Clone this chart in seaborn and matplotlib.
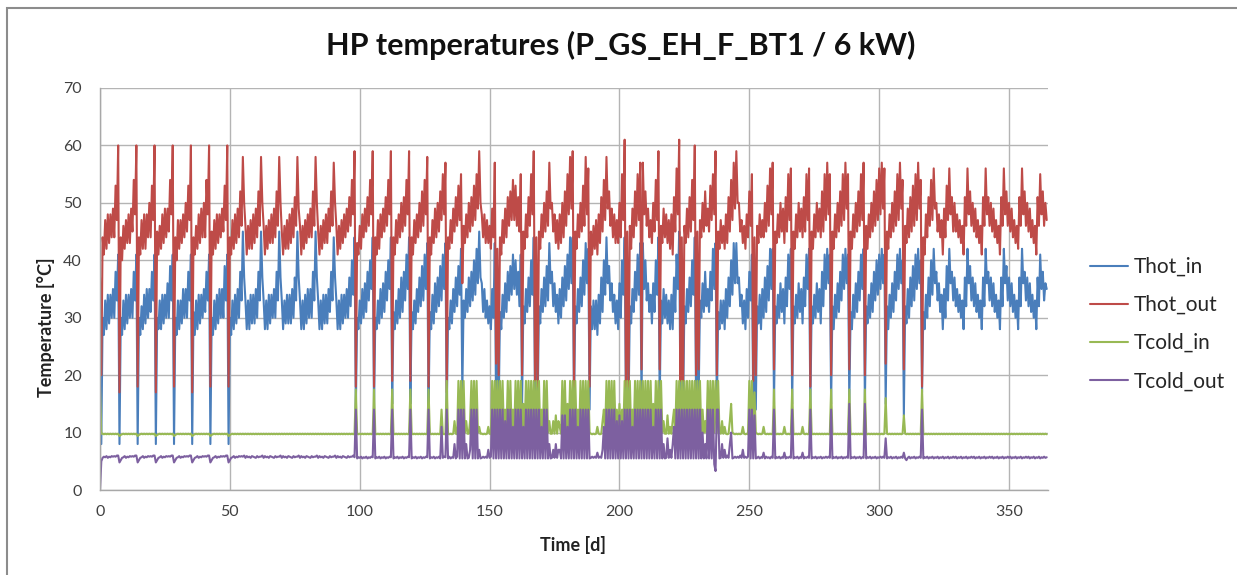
import numpy as np
import pandas as pd
import matplotlib
matplotlib.use("Agg")
import matplotlib.pyplot as plt
import seaborn as sns
from matplotlib.patches import Rectangle

# ---------------- data (two readings per day: start of day, mid-day) ----------------
title_text = "HP temperatures (P_GS_EH_F_BT1 / 6 kW)"
series_names = ["Thot_in", "Thot_out", "Tcold_in", "Tcold_out"]
series_colors = ["#4A7EBB", "#BE4B48", "#98B954", "#7D60A0"]
x_ticks = [0, 50, 100, 150, 200, 250, 300, 350]
y_ticks = [0, 10, 20, 30, 40, 50, 60, 70]

thot_out = [
    37,20, 44,41, 47,42, 48,43, 48,44, 49,44, 53,47,   # d0-6
    60,17, 44,40, 46,42, 47,43, 48,43, 49,45, 54,48,   # d7-13
    60,18, 44,41, 47,42, 48,42, 48,44, 50,44, 53,47,
    60,17, 45,41, 46,42, 48,43, 49,44, 49,45, 54,48,
    60,18, 44,40, 47,42, 47,43, 48,44, 50,45, 53,47,
    60,17, 44,41, 46,42, 48,43, 49,44, 50,44, 54,48,
    60,18, 45,41, 47,42, 48,43, 48,44, 49,45, 53,47,   # d42-48
    60,18, 44,41, 47,42, 48,43, 49,44, 52,46, 58,50,   # d49-55
    46,41, 46,42, 47,42, 48,43, 49,44, 52,46, 58,50,
    46,41, 46,42, 47,43, 48,43, 49,44, 52,46, 58,50,
    45,41, 46,42, 47,42, 48,43, 49,44, 51,46, 58,49,
    46,41, 46,42, 47,43, 48,44, 49,44, 52,46, 58,50,
    45,41, 46,42, 47,43, 48,43, 49,45, 52,46, 57,50,
    46,41, 46,42, 47,43, 48,44, 49,45, 51,46, 54,48,   # d91-97
    59,18, 43,41, 46,42, 48,44, 49,45, 51,46, 54,48,   # d98-104
    59,18, 44,41, 47,42, 48,44, 49,45, 51,46, 54,48,
    59,19, 44,41, 47,43, 48,44, 50,45, 51,46, 54,48,
    59,19, 44,41, 47,43, 48,44, 50,45, 52,46, 54,48,
    58,18, 44,41, 47,43, 49,44, 50,45, 52,47, 55,48,
    57,17, 44,42, 47,43, 49,45, 51,46, 53,47, 55,36,   # d133-139
    46,43, 48,44, 50,45, 51,46, 53,47, 55,49, 59,50,
    48,44, 48,43, 47,43, 46,42, 49,44, 57,22, 42,20,
    44,41, 47,43, 49,44, 51,46, 52,47, 54,47, 53,46,
    51,45, 55,20, 45,42, 48,44, 51,46, 55,48, 59,19,
    44,18, 45,42, 48,44, 50,45, 52,46, 57,49, 50,45,
    48,43, 47,42, 48,43, 50,44, 52,46, 55,48, 58,49,
    59,18, 45,42, 48,44, 50,45, 53,46, 58,48, 56,18,   # d182-188
    45,41, 46,42, 47,41, 48,43, 51,45, 54,47, 58,49,
    52,46, 49,44, 48,43, 47,43, 50,44, 55,47, 61,18,
    45,18, 46,42, 49,44, 52,46, 55,47, 57,21, 57,48,
    52,46, 49,44, 47,43, 50,45, 54,47, 59,21, 46,43,
    49,44, 48,43, 47,42, 48,41, 51,45, 56,48, 61,19,
    44,19, 46,43, 49,44, 51,45, 54,47, 60,20, 45,21,
    47,44, 50,45, 52,46, 49,45, 53,47, 55,48, 59,20,   # d231-237
    45,42, 47,43, 46,42, 48,43, 51,45, 54,47, 57,49,
    59,50, 50,45, 47,43, 46,42, 48,44, 52,46, 55,19,
    44,20, 46,43, 48,44, 47,44, 50,45, 53,46, 56,48,
    57,21, 45,43, 48,44, 50,45, 49,43, 51,45, 55,47,
    56,20, 45,42, 48,44, 50,45, 49,44, 51,45, 55,47,
    56,18, 45,42, 48,44, 50,45, 49,44, 52,45, 55,47,
    57,48, 55,20, 45,42, 48,44, 50,45, 52,46, 55,47,   # d280-286
    57,49, 55,21, 45,42, 48,44, 50,45, 52,46, 55,47,
    57,20, 46,42, 48,44, 50,45, 52,46, 54,47, 56,48,
    57,49, 56,22, 45,42, 48,44, 50,45, 52,46, 55,47,
    57,49, 54,21, 46,43, 49,44, 51,45, 53,46, 55,47,
    57,49, 54,18, 44,41, 48,44, 51,46, 54,47, 56,49,   # d315-321
    50,45, 48,44, 47,41, 49,44, 53,47, 56,48, 51,45,
    50,45, 48,44, 47,43, 46,41, 51,46, 56,48, 52,46,
    50,45, 49,44, 47,43, 46,41, 51,46, 56,48, 51,46,
    50,45, 49,44, 47,43, 46,41, 51,46, 56,48, 52,46,
    50,45, 49,44, 47,43, 46,42, 51,46, 56,48, 52,46,
    50,45, 49,44, 47,43, 46,41, 51,46, 55,48, 52,46,   # d357-363
    50,47,                                             # d364
]

thot_in = [
    25,8, 30,27, 33,28, 34,29, 34,30, 35,30, 38,33,
    41,8, 30,27, 33,28, 34,29, 34,30, 35,30, 38,33,
    41,8, 30,27, 32,28, 34,29, 35,30, 35,31, 38,33,
    41,8, 30,28, 33,28, 34,29, 34,30, 36,30, 39,33,
    41,8, 30,27, 33,28, 33,29, 35,30, 35,30, 38,33,
    41,8, 31,27, 33,28, 34,29, 34,30, 35,31, 38,33,
    41,8, 30,27, 33,28, 34,29, 35,30, 35,30, 39,33,
    41,8, 30,27, 33,28, 34,29, 35,30, 38,33, 45,37,
    33,28, 33,28, 34,29, 34,29, 35,30, 38,33, 45,37,
    33,28, 33,28, 34,29, 34,30, 35,30, 38,33, 45,37,
    33,28, 33,29, 34,29, 34,29, 35,30, 37,33, 45,37,
    33,28, 33,28, 34,29, 35,30, 35,30, 38,33, 45,37,
    33,28, 33,28, 34,29, 34,29, 35,31, 38,33, 44,37,
    33,28, 33,28, 34,29, 34,30, 35,30, 37,32, 40,34,
    44,14, 30,28, 33,29, 35,30, 36,31, 38,33, 40,35,
    44,14, 30,28, 33,29, 35,30, 36,31, 38,33, 40,35,
    44,15, 31,28, 33,29, 35,30, 37,31, 38,33, 41,35,
    44,15, 31,28, 33,29, 35,31, 37,32, 39,33, 41,35,
    43,14, 31,28, 34,29, 36,31, 37,32, 39,33, 41,35,
    43,13, 30,28, 33,29, 35,31, 37,32, 39,34, 42,17,
    33,30, 35,31, 37,32, 38,33, 40,34, 42,36, 45,37,
    36,31, 35,30, 33,29, 32,28, 35,30, 43,14, 32,14,
    31,28, 34,30, 36,31, 38,33, 39,34, 41,35, 40,34,
    38,32, 41,15, 32,29, 35,31, 37,32, 40,34, 44,14,
    31,14, 32,29, 35,31, 37,32, 39,33, 43,36, 38,32,
    36,31, 34,29, 35,30, 37,32, 39,33, 41,35, 44,36,
    44,14, 32,29, 35,31, 37,32, 40,34, 43,36, 42,14,
    32,28, 33,28, 33,27, 34,29, 37,31, 40,34, 44,36,
    39,33, 36,31, 34,29, 33,28, 36,30, 40,34, 44,14,
    32,14, 32,29, 35,31, 38,33, 41,34, 43,15, 43,35,
    40,33, 36,31, 34,29, 36,31, 40,34, 44,15, 33,29,
    35,30, 34,29, 33,28, 34,28, 37,31, 41,35, 45,14,
    31,14, 32,29, 35,31, 37,32, 40,34, 44,15, 32,16,
    33,30, 36,31, 38,32, 35,31, 38,33, 42,35, 43,14,
    31,28, 33,29, 33,28, 35,30, 37,32, 40,34, 43,36,
    43,36, 37,32, 34,29, 33,28, 35,30, 38,33, 41,14,
    31,14, 32,29, 34,28, 35,30, 37,31, 39,33, 42,35,
    42,15, 32,29, 34,30, 36,31, 35,29, 37,32, 41,35,
    42,15, 32,29, 34,30, 36,31, 35,29, 37,32, 41,35,
    42,14, 32,29, 34,30, 36,31, 35,29, 38,32, 41,35,
    42,36, 41,15, 32,28, 34,30, 36,31, 38,33, 41,35,
    42,36, 41,15, 31,28, 34,30, 36,31, 38,33, 41,35,
    42,15, 32,29, 34,30, 36,31, 38,33, 40,34, 41,35,
    42,36, 41,15, 32,28, 34,30, 36,31, 38,33, 41,35,
    42,36, 40,13, 32,29, 35,30, 37,32, 39,33, 41,35,
    42,36, 40,17, 31,28, 34,30, 37,32, 40,34, 42,36,
    38,33, 36,31, 34,28, 35,30, 39,33, 42,36, 38,33,
    37,32, 35,31, 34,30, 33,28, 37,32, 42,36, 39,33,
    37,32, 36,31, 34,30, 33,28, 37,32, 42,36, 38,33,
    37,32, 36,31, 34,30, 33,28, 37,32, 42,36, 39,33,
    37,32, 36,31, 34,30, 33,28, 37,32, 42,36, 38,33,
    37,32, 36,31, 34,30, 33,28, 37,32, 41,35, 38,33,
    36,35,
]

tcold_in = [
    18,9.8, 9.8,9.7, 9.8,9.7, 9.8,9.7, 9.8,9.7, 9.8,9.7, 9.8,9.7,
    9.8,9.4, 9.6,9.7, 9.8,9.7, 9.8,9.7, 9.8,9.7, 9.8,9.7, 9.8,9.7,
    9.8,9.4, 9.6,9.7, 9.8,9.7, 9.8,9.7, 9.8,9.7, 9.8,9.7, 9.8,9.7,
    9.8,9.4, 9.6,9.7, 9.8,9.7, 9.8,9.7, 9.8,9.7, 9.8,9.7, 9.8,9.7,
    9.8,9.4, 9.6,9.7, 9.8,9.7, 9.8,9.7, 9.8,9.7, 9.8,9.7, 9.8,9.7,
    9.8,9.4, 9.6,9.7, 9.8,9.7, 9.8,9.7, 9.8,9.7, 9.8,9.7, 9.8,9.7,
    9.8,9.4, 9.6,9.7, 9.8,9.7, 9.8,9.7, 9.8,9.7, 9.8,9.7, 9.8,9.7,
    9.8,9.4, 9.6,9.7, 9.8,9.7, 9.8,9.7, 9.8,9.7, 9.8,9.7, 9.8,9.7,
    9.8,9.7, 9.8,9.7, 9.8,9.7, 9.8,9.7, 9.8,9.7, 9.8,9.7, 9.8,9.7,
    9.8,9.7, 9.8,9.7, 9.8,9.7, 9.8,9.7, 9.8,9.7, 9.8,9.7, 9.8,9.7,
    9.8,9.7, 9.8,9.7, 9.8,9.7, 9.8,9.7, 9.8,9.7, 9.8,9.7, 9.8,9.7,
    9.8,9.7, 9.8,9.7, 9.8,9.7, 9.8,9.7, 9.8,9.7, 9.8,9.7, 9.8,9.7,
    9.8,9.7, 9.8,9.7, 9.8,9.7, 9.8,9.7, 9.8,9.7, 9.8,9.7, 9.8,9.7,
    9.8,9.7, 9.8,9.7, 9.8,9.7, 9.8,9.7, 9.8,9.7, 9.8,9.7, 9.8,9.7,
    9.8,17.5, 9.8,9.7, 9.8,9.7, 9.8,9.7, 9.8,9.7, 9.8,9.7, 9.8,9.7,
    9.8,17.5, 9.8,9.7, 9.8,9.7, 9.8,9.7, 9.8,9.7, 9.8,9.7, 9.8,9.7,
    9.8,17.5, 9.8,9.7, 9.8,9.7, 9.8,9.7, 9.8,9.7, 9.8,9.7, 9.8,9.7,
    9.8,17.5, 9.8,9.7, 9.8,9.7, 9.8,9.7, 9.8,9.7, 9.8,9.7, 9.8,9.7,
    9.8,17.5, 9.8,9.7, 9.8,9.7, 9.8,9.7, 9.8,9.7, 9.8,14, 9.8,9.7,
    9.8,19, 9.8,9.7, 9.8,9.7, 9.8,12, 9.8,9.7, 19,10, 19,10,
    19,10, 12,9.8, 9.8,12, 19,10, 19,10, 19,10, 11,9.8,
    9.8,9.7, 9.8,9.7, 9.8,11, 9.8,9.7, 19,10, 19,10, 19,10,
    19,10, 19,10, 14,10, 19,10, 19,10, 14,10, 19,10,
    19,10, 19,10, 15,10, 19,10, 19,10, 19,10, 19,10,
    19,10, 19,10, 14,10, 19,10, 19,10, 12,9.8, 9.8,12,
    9.8,13, 9.8,12, 11,9.8, 19,10, 19,10, 15,10, 19,10,
    19,10, 19,10, 14,10, 19,10, 19,10, 19,10, 19,10,
    9.8,9.7, 9.8,9.7, 9.8,11, 9.8,9.7, 9.8,12, 14,10, 19,10,
    19,10, 19,10, 19,10, 14,10, 15,10, 14,10, 19,10,
    19,10, 19,10, 14,10, 19,10, 19,10, 19,10, 19,10,
    19,10, 19,10, 19,10, 15,10, 19,10, 19,10, 19,10,
    12,9.8, 9.8,13, 9.8,11, 9.8,12, 14,10, 19,10, 19,10,
    19,10, 19,10, 19,10, 19,10, 19,10, 19,10, 19,10,
    19,10, 14,10, 12,10, 19,10, 19,10, 19,10, 19,10,
    19,10, 9.8,12, 9.8,11, 9.8,9.7, 9.8,12, 15,10, 9.8,9.7,
    9.8,9.7, 9.8,9.7, 9.8,11, 9.8,9.7, 9.8,9.7, 19,10, 19,10,
    17,10, 9.8,9.7, 9.8,9.7, 9.8,11, 9.8,9.7, 9.8,9.7, 9.8,9.7,
    9.8,17.5, 9.8,9.7, 9.8,9.7, 9.8,9.7, 9.8,11, 9.8,9.7, 9.8,9.7,
    9.8,17.5, 9.8,9.7, 9.8,9.7, 9.8,9.7, 9.8,11, 9.8,9.7, 9.8,9.7,
    9.8,17.5, 9.8,9.7, 9.8,9.7, 9.8,9.7, 9.8,9.7, 9.8,9.7, 9.8,9.7,
    9.8,9.7, 9.8,17.5, 9.8,9.7, 9.8,9.7, 9.8,9.7, 9.8,9.7, 9.8,9.7,
    9.8,9.7, 9.8,17.5, 9.8,9.7, 9.8,9.7, 9.8,9.7, 9.8,9.7, 9.8,9.7,
    9.8,17.5, 9.8,9.7, 9.8,9.7, 9.8,9.7, 9.8,9.7, 9.8,9.7, 9.8,9.7,
    9.8,9.7, 9.8,16, 9.8,9.7, 9.8,9.7, 9.8,9.7, 9.8,9.7, 9.8,9.7,
    9.8,9.7, 9.8,13, 9.8,9.7, 9.8,9.7, 9.8,9.7, 9.8,9.7, 9.8,9.7,
    9.8,9.7, 9.8,17.5, 9.8,9.7, 9.8,9.7, 9.8,9.7, 9.8,9.7, 9.8,9.7,
    9.8,9.7, 9.8,9.7, 9.8,9.7, 9.8,9.7, 9.8,9.7, 9.8,9.7, 9.8,9.7,
    9.8,9.7, 9.8,9.7, 9.8,9.7, 9.8,9.7, 9.8,9.7, 9.8,9.7, 9.8,9.7,
    9.8,9.7, 9.8,9.7, 9.8,9.7, 9.8,9.7, 9.8,9.7, 9.8,9.7, 9.8,9.7,
    9.8,9.7, 9.8,9.7, 9.8,9.7, 9.8,9.7, 9.8,9.7, 9.8,9.7, 9.8,9.7,
    9.8,9.7, 9.8,9.7, 9.8,9.7, 9.8,9.7, 9.8,9.7, 9.8,9.7, 9.8,9.7,
    9.8,9.7, 9.8,9.7, 9.8,9.7, 9.8,9.7, 9.8,9.7, 9.8,9.7, 9.8,9.7,
    9.8,9.7,
]

tcold_out = [
    0,5.0, 5.6,5.8, 5.7,5.9, 5.6,5.8, 5.7,5.9, 5.8,5.9, 5.8,6.0,
    6.0,4.8, 5.2,5.6, 5.7,5.9, 5.6,5.8, 5.7,5.9, 5.8,5.9, 5.8,6.0,
    6.0,4.8, 5.2,5.6, 5.7,5.9, 5.6,5.8, 5.7,5.9, 5.8,5.9, 5.8,6.0,
    6.0,4.8, 5.2,5.6, 5.7,5.9, 5.6,5.8, 5.7,5.9, 5.8,5.9, 5.8,6.0,
    6.0,4.8, 5.2,5.6, 5.7,5.9, 5.6,5.8, 5.7,5.9, 5.8,5.9, 5.8,6.0,
    6.0,4.8, 5.2,5.6, 5.7,5.9, 5.6,5.8, 5.7,5.9, 5.8,5.9, 5.8,6.0,
    6.0,4.8, 5.2,5.6, 5.7,5.9, 5.6,5.8, 5.7,5.9, 5.8,5.9, 5.8,6.0,
    6.0,4.8, 5.2,5.6, 5.7,5.9, 5.6,5.8, 5.7,5.9, 5.8,5.9, 5.8,6.0,
    5.6,5.9, 5.7,5.8, 5.6,5.9, 5.8,5.7, 5.6,5.9, 5.7,5.8, 5.8,6.0,
    5.6,5.9, 5.7,5.8, 5.6,5.9, 5.8,5.7, 5.6,5.9, 5.7,5.8, 5.8,6.0,
    5.6,5.9, 5.7,5.8, 5.6,5.9, 5.8,5.7, 5.6,5.9, 5.7,5.8, 5.8,6.0,
    5.6,5.9, 5.7,5.8, 5.6,5.9, 5.8,5.7, 5.6,5.9, 5.7,5.8, 5.8,6.0,
    5.6,5.9, 5.7,5.8, 5.6,5.9, 5.8,5.7, 5.6,5.9, 5.7,5.8, 5.8,6.0,
    5.6,5.9, 5.7,5.8, 5.6,5.9, 5.8,5.7, 5.6,5.9, 5.7,5.8, 5.8,6.0,
    5.7,14, 5.5,5.7, 5.6,5.8, 5.5,5.7, 5.6,5.8, 5.5,5.7, 5.6,5.8,
    5.7,14, 5.5,5.7, 5.6,5.8, 5.5,5.7, 5.6,5.8, 5.5,5.7, 5.6,5.8,
    5.7,14, 5.5,5.7, 5.6,5.8, 5.5,5.7, 5.6,5.8, 5.5,5.7, 5.6,5.8,
    5.7,14, 5.5,5.7, 5.6,5.8, 5.5,5.7, 5.6,5.8, 5.5,5.7, 5.6,5.8,
    5.7,14, 5.5,5.7, 5.6,5.8, 5.5,5.7, 5.6,5.8, 5.5,11, 5.6,5.8,
    5.7,14, 5.5,5.8, 5.5,5.7, 5.6,8, 5.5,5.8, 14,5.5, 14,5.5,
    14,5.5, 8,5.5, 5.6,7, 14,5.5, 14,5.5, 14,5.5, 7,5.5,
    5.6,5.8, 5.6,5.8, 5.6,7, 5.6,5.8, 14,5.5, 14,5.5, 14,5.5,
    14,5.5, 14,5.5, 12,5.5, 14,5.5, 14,5.5, 11,5.5, 14,5.5,
    14,5.5, 14,5.5, 11,5.5, 14,5.5, 14,5.5, 14,5.5, 14,5.5,
    14,5.5, 14,5.5, 11,5.5, 14,5.5, 14,5.5, 8,5.5, 5.6,7,
    5.6,8, 5.6,7, 7,5.5, 13,5.5, 13,5.5, 11,5.5, 14,5.5,
    14,5.5, 14,5.5, 11,5.5, 14,5.5, 14,5.5, 14,5.5, 14,5.5,
    5.6,5.8, 5.6,5.8, 5.6,6.5, 5.6,5.8, 5.6,7, 11,5.5, 14,5.5,
    14,5.5, 14,5.5, 14,5.5, 12,5.5, 13,5.5, 12,5.5, 14,5.5,
    14,5.5, 14,5.5, 11,5.5, 14,5.5, 14,5.5, 14,5.5, 14,5.5,
    14,5.5, 14,5.5, 14,5.5, 11,5.5, 14,5.5, 14,5.5, 14,5.5,
    8,5.5, 5.6,9, 5.6,7, 5.6,8, 11,5.5, 14,5.5, 14,5.5,
    14,5.5, 14,5.5, 14,5.5, 14,5.5, 14,5.5, 14,5.5, 14,5.5,
    14,5.5, 10,5.5, 8,5.5, 14,5.5, 14,5.5, 14,4.5, 3.3,14,
    14,5.5, 5.6,8, 5.6,7, 5.6,6, 5.6,8, 10,5.5, 5.6,5.8,
    5.6,5.8, 5.6,6, 5.6,7, 5.6,5.8, 5.6,5.8, 14,5.5, 14,5.5,
    13,5.5, 5.6,5.8, 5.5,5.7, 5.6,6.5, 5.5,5.8, 5.6,5.7, 5.5,5.8,
    5.6,14, 5.5,5.7, 5.6,5.8, 5.5,5.7, 5.6,6.5, 5.5,5.7, 5.6,5.8,
    5.6,14, 5.5,5.7, 5.6,5.8, 5.5,5.7, 5.6,6.5, 5.5,5.7, 5.6,5.8,
    5.6,14, 5.5,5.7, 5.6,5.8, 5.5,5.7, 5.6,5.8, 5.5,5.7, 5.6,5.8,
    5.6,5.8, 5.6,14, 5.5,5.7, 5.6,5.8, 5.5,5.7, 5.6,5.8, 5.5,5.7,
    5.6,5.8, 5.6,15, 5.5,5.7, 5.6,5.8, 5.5,5.7, 5.6,5.8, 5.5,5.7,
    5.6,15, 5.5,5.7, 5.6,5.8, 5.5,5.7, 5.6,5.8, 5.5,5.7, 5.6,5.8,
    5.6,5.8, 5.6,9, 5.5,5.7, 5.6,5.8, 5.5,5.7, 5.6,5.8, 5.5,5.7,
    5.6,5.8, 5.6,6.5, 5.5,5.2, 5.6,5.8, 5.5,5.7, 5.6,5.8, 5.5,5.7,
    5.6,5.8, 5.6,14, 5.5,5.7, 5.6,5.8, 5.5,5.7, 5.6,5.8, 5.5,5.7,
    5.6,5.8, 5.5,5.7, 5.6,5.8, 5.5,5.7, 5.6,5.8, 5.5,5.7, 5.6,5.8,
    5.6,5.8, 5.5,5.7, 5.6,5.8, 5.5,5.7, 5.6,5.8, 5.5,5.7, 5.6,5.8,
    5.6,5.8, 5.5,5.7, 5.6,5.8, 5.5,5.7, 5.6,5.8, 5.5,5.7, 5.6,5.8,
    5.6,5.8, 5.5,5.7, 5.6,5.8, 5.5,5.7, 5.6,5.8, 5.5,5.7, 5.6,5.8,
    5.6,5.8, 5.5,5.7, 5.6,5.8, 5.5,5.7, 5.6,5.8, 5.5,5.7, 5.6,5.8,
    5.6,5.8, 5.5,5.7, 5.6,5.8, 5.5,5.7, 5.6,5.8, 5.5,5.7, 5.6,5.8,
    5.6,5.7,
]

series_values = [thot_in, thot_out, tcold_in, tcold_out]

# ---------------- build long table ----------------
frames = []
for name, vals in zip(series_names, series_values):
    t = np.arange(len(vals)) * 0.5          # sample times in days
    frames.append(pd.DataFrame({"Time": t, "Temperature": vals, "Series": name}))
df = pd.concat(frames, ignore_index=True)

# ---------------- styling ----------------
sns.set_theme(style="white")
plt.rcParams["font.family"] = ["Lato", "DejaVu Sans"]

W, H = 1237, 575
fig = plt.figure(figsize=(W / 100, H / 100), dpi=100)
fig.patch.set_facecolor("white")
ax = fig.add_axes([100 / W, 85 / H, 948 / W, 402 / H])

sns.lineplot(data=df, x="Time", y="Temperature", hue="Series",
             hue_order=series_names, palette=series_colors,
             estimator=None, sort=False, linewidth=1.5, ax=ax)

ax.set_xlim(0, 365)
ax.set_ylim(0, 70)
ax.set_xticks(x_ticks)
ax.set_yticks(y_ticks)
ax.set_axisbelow(True)
ax.grid(True, color="#B4B4B4", linewidth=1.0)
for s in ["top", "right"]:
    ax.spines[s].set_visible(False)
for s in ["left", "bottom"]:
    ax.spines[s].set_color("#A8A8A8")
    ax.spines[s].set_linewidth(1.0)
ax.tick_params(axis="both", length=0, labelsize=11.5, colors="#404040")
ax.tick_params(axis="y", pad=13)
ax.tick_params(axis="x", pad=11)

ax.set_xlabel("Time [d]", fontsize=13, fontweight="bold", color="#222222")
ax.set_ylabel("Temperature [°C]", fontsize=13, fontweight="bold", color="#222222")
ax.xaxis.set_label_coords(0.499, -0.115)
ax.yaxis.set_label_coords(-0.047, 0.405)

fig.text(0.502, 1 - 45 / H, title_text, ha="center", va="center",
         fontsize=22, fontweight="bold", color="#111111")

handles, labels = ax.get_legend_handles_labels()
if ax.get_legend() is not None:
    ax.get_legend().remove()
leg = ax.legend(handles, labels, loc="center left",
                bbox_to_anchor=(1090 / W, 1 - 324 / H), bbox_transform=fig.transFigure,
                frameon=False, fontsize=15, handlelength=1.83, handletextpad=0.25,
                labelspacing=0.87, borderpad=0, borderaxespad=0)
for line in leg.get_lines():
    line.set_linewidth(1.5)

fig.add_artist(Rectangle((7 / W, -0.1), 1.2, (H - 8) / H + 0.1,
                         transform=fig.transFigure, fill=False,
                         edgecolor="#8C8C8C", linewidth=1.5))

fig.savefig("out.png", dpi=100, facecolor="white")
